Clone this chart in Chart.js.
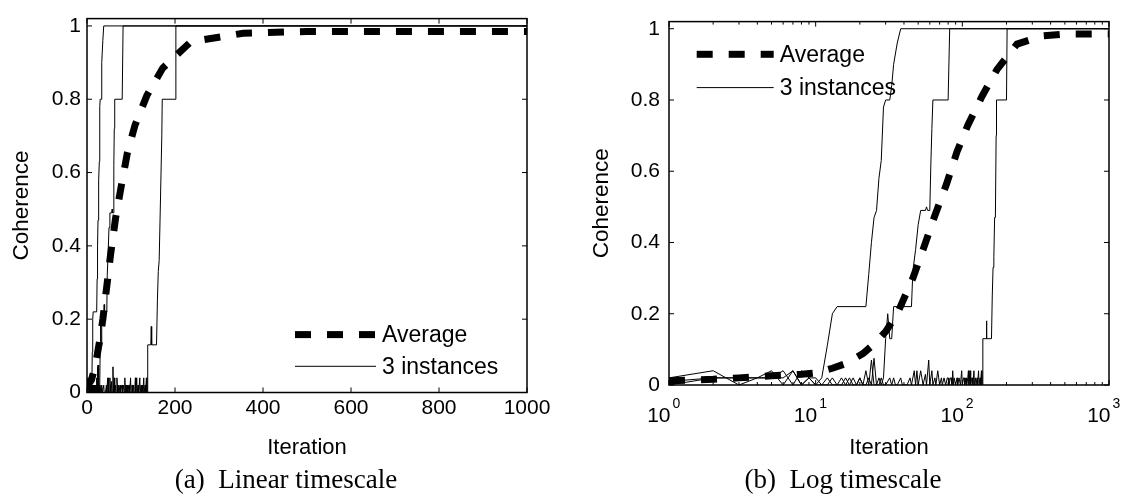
<!DOCTYPE html>
<html>
<head>
<meta charset="utf-8">
<script src="https://cdn.jsdelivr.net/npm/chart.js@4.4.0/dist/chart.umd.min.js"></script>
<style>
  body { margin: 0; background: #fff; width: 1130px; height: 503px; overflow: hidden; position: relative; }
  .panel { position: absolute; top: 0; width: 565px; height: 465px; }
  .caption { position: absolute; top: 464px; height: 30px; line-height: 30px; text-align: center;
             font-family: 'Liberation Serif', 'Times New Roman', serif; font-size: 27px; color: #000; white-space: pre; }
</style>
</head>
<body>
<div class="panel" style="left:0"><canvas id="linChart"></canvas></div>
<div class="panel" style="left:565px"><canvas id="logChart"></canvas></div>
<div class="caption" style="left:0;width:572px">(a)  Linear timescale</div>
<div class="caption" style="left:560px;width:566px">(b)  Log timescale</div>
<script>
// average coherence over runs (iteration, value)
const avgIter = [1, 2, 3, 5, 8, 10, 13, 16, 21, 25, 30, 36, 46, 54, 65, 78, 92, 109, 136, 172, 236, 355, 500, 1000]
const avgVal = [0.012, 0.016, 0.02, 0.026, 0.03, 0.034, 0.047, 0.06, 0.088, 0.115, 0.15, 0.2, 0.30, 0.38, 0.476, 0.564, 0.655, 0.729, 0.81, 0.885, 0.957, 0.98, 0.985, 0.985]

// three single runs, [iteration, coherence]
const instA = [[1, 0.02], [2, 0.04], [3, 0], [4, 0.02], [5, 0.02], [6, 0.04], [7, 0], [8, 0.04], [9, 0.02], [10, 0],
  [11, 0.02], [12, 0.11], [13, 0.2], [14, 0.22], [22, 0.22], [23, 0.31], [24, 0.4], [25, 0.47], [26, 0.49], [27, 0.58],
  [28, 0.63], [29, 0.78], [30, 0.8], [32, 0.8], [33, 0.84], [34, 0.9], [36, 0.96], [38, 1], [1000, 1]]

const instB = [[1, 0.01], [2, 0.02], [3, 0.02], [4, 0.02], [5, 0.04], [6, 0], [7, 0.04], [8, 0], [9, 0.02], [10, 0.02],
  [11, 0], [12, 0.02], [13, 0], [14, 0], [15, 0.02], [16, 0], [17, 0.02], [18, 0], [19, 0], [20, 0.02], [21, 0],
  [22, 0.04], [23, 0], [24, 0.07], [25, 0], [26, 0], [27, 0.02], [28, 0], [29, 0.02], [30, 0.13], [31, 0.2],
  [32, 0.13], [33, 0.13], [34, 0.22], [38, 0.22], [39, 0.24], [40, 0.22], [45, 0.22], [46, 0.32], [48, 0.38],
  [50, 0.45], [52, 0.49], [56, 0.49], [57, 0.5], [58, 0.49], [60, 0.49], [61, 0.62], [62, 0.72], [63, 0.8],
  [80, 0.8], [82, 1], [1000, 1]]

const instC = [[1, 0], [2, 0.02], [3, 0.02], [4, 0.02], [5, 0.02], [6, 0.02], [7, 0.04], [8, 0], [9, 0.02], [10, 0],
  [11, 0], [12, 0], [13, 0.02], [14, 0], [15, 0], [16, 0.02], [17, 0], [18, 0.02], [19, 0], [20, 0.02], [21, 0],
  [22, 0], [23, 0.02], [24, 0], [25, 0.075], [26, 0], [27, 0], [28, 0.02], [29, 0], [30, 0], [32, 0.02], [33, 0],
  [34, 0.02], [35, 0], [36, 0], [38, 0.02], [39, 0], [42, 0], [44, 0.02], [45, 0], [47, 0.04], [48, 0], [49, 0.04],
  [50, 0], [52, 0.04], [53, 0.02], [54, 0], [56, 0.03], [57, 0], [59, 0.07], [60, 0], [62, 0.04], [63, 0], [65, 0.02],
  [66, 0], [68, 0.04], [69, 0.02], [70, 0], [72, 0.02], [73, 0], [75, 0.02], [76, 0.02], [77, 0], [79, 0.02],
  [80, 0.02], [81, 0], [83, 0.02], [84, 0.02], [85, 0], [86, 0.04], [87, 0], [88, 0.02], [89, 0.02], [90, 0],
  [92, 0.02], [93, 0], [95, 0.02], [96, 0.02], [97, 0], [99, 0.04], [100, 0], [102, 0.02], [103, 0.02], [104, 0],
  [106, 0.02], [107, 0], [109, 0.02], [110, 0.04], [111, 0], [113, 0.04], [114, 0], [116, 0.02], [117, 0.02],
  [118, 0], [120, 0.04], [121, 0], [123, 0.02], [124, 0], [126, 0.02], [127, 0], [129, 0.04], [130, 0], [132, 0.02],
  [133, 0], [135, 0.04], [136, 0], [137, 0], [138, 0.13], [145, 0.13], [146, 0.18], [147, 0.13], [158, 0.13],
  [160, 0.25], [162, 0.33], [164, 0.36], [166, 0.47], [168, 0.47], [170, 0.7], [171, 0.8], [200, 0.8], [202, 1],
  [1000, 1]]

const linTicks = [0, 200, 400, 600, 800, 1000]
const logTicks = [1, 10, 100, 1000]
const logExponents = ['0', '1', '2', '3']
const yTicks = [0, 0.2, 0.4, 0.6, 0.8, 1]
const legendLabels = ['Average', '3 instances']

const SANS = "'Liberation Sans', Arial, Helvetica, sans-serif"

const toXY = pairs => pairs.map(([x, y]) => ({ x, y }))

function makeDatasets() {
  const thin = { borderColor: '#000', borderWidth: 1, pointRadius: 0, tension: 0, fill: false }
  return [
    {
      label: legendLabels[0],
      data: avgIter.map((x, i) => ({ x, y: avgVal[i] })),
      borderColor: '#000',
      borderWidth: 7,
      borderDash: [16, 16],
      borderCapStyle: 'butt',
      pointRadius: 0,
      tension: 0,
      fill: false,
    },
    { label: legendLabels[1], data: toXY(instA), ...thin },
    { label: 'run 2', data: toXY(instB), ...thin },
    { label: 'run 3', data: toXY(instC), ...thin },
  ]
}

// box around the axes with inward ticks, matlab style
const frame = {
  id: 'frame',
  afterDatasetsDraw(chart) {
    const { ctx, chartArea: a, scales: { x, y } } = chart
    ctx.save()
    ctx.strokeStyle = '#000'
    ctx.lineWidth = 1
    const seg = (x1, y1, x2, y2) => { ctx.beginPath(); ctx.moveTo(x1, y1); ctx.lineTo(x2, y2); ctx.stroke() }
    const major = 5, minor = 3
    x.ticks.forEach(t => {
      const px = x.getPixelForValue(t.value)
      seg(px, a.bottom, px, a.bottom - major)
      seg(px, a.top, px, a.top + major)
    })
    if (x.type === 'logarithmic') {
      for (let dec = 1; dec < 1000; dec *= 10) {
        for (let m = 2; m <= 9; m++) {
          const px = x.getPixelForValue(m * dec)
          seg(px, a.bottom, px, a.bottom - minor)
          seg(px, a.top, px, a.top + minor)
        }
      }
      // tick labels as 10 with exponent
      ctx.fillStyle = '#000'
      ctx.textBaseline = 'alphabetic'
      x.ticks.forEach((t, i) => {
        const px = x.getPixelForValue(t.value)
        ctx.font = '21px ' + SANS
        ctx.textAlign = 'right'
        ctx.fillText('10', px + 1.5, a.bottom + 37)
        ctx.font = '14px ' + SANS
        ctx.textAlign = 'left'
        ctx.fillText(logExponents[i], px + 3.5, a.bottom + 23)
      })
    }
    y.ticks.forEach(t => {
      const py = y.getPixelForValue(t.value)
      seg(a.left, py, a.left + major, py)
      seg(a.right, py, a.right - major, py)
    })
    ctx.lineWidth = 1.5
    ctx.strokeRect(a.left, a.top, a.right - a.left, a.bottom - a.top)
    ctx.restore()
  },
}

// legend without a box, drawn inside the axes
const lineLegend = {
  id: 'lineLegend',
  afterDraw(chart, args, opts) {
    const { ctx, chartArea: a } = chart
    const x0 = a.left + opts.dx
    ctx.save()
    ctx.font = '23px ' + SANS
    ctx.fillStyle = '#000'
    ctx.textAlign = 'left'
    ctx.textBaseline = 'middle'
    legendLabels.forEach((label, i) => {
      const ds = chart.data.datasets[i]
      const y = a.top + opts.dy + i * opts.rowGap
      ctx.strokeStyle = ds.borderColor
      ctx.lineWidth = ds.borderWidth
      ctx.lineCap = 'butt'
      ctx.setLineDash(ds.borderDash || [])
      ctx.beginPath()
      ctx.moveTo(x0, y)
      ctx.lineTo(x0 + opts.sample, y)
      ctx.stroke()
      ctx.setLineDash([])
      ctx.fillText(label, x0 + opts.sample + 6, y + 1)
    })
    ctx.restore()
  },
}

function buildChart(id, cfg) {
  return new Chart(document.getElementById(id), {
    type: 'line',
    data: { datasets: makeDatasets() },
    plugins: [frame, lineLegend],
    options: {
      animation: false,
      responsive: true,
      maintainAspectRatio: false,
      events: [],
      layout: { padding: { top: 14, right: cfg.padRight, left: 0, bottom: 0 } },
      plugins: {
        legend: { display: false },
        tooltip: { enabled: false },
        lineLegend: cfg.legend,
      },
      scales: {
        x: {
          type: cfg.xType,
          min: cfg.xMin,
          max: cfg.xMax,
          afterBuildTicks: s => { s.ticks = cfg.xTicks.map(v => ({ value: v })) },
          afterFit: s => { s.height = cfg.xHeight },
          grid: { display: false, drawTicks: false },
          border: { display: false },
          ticks: {
            display: cfg.xType === 'linear',
            color: '#000',
            font: { family: SANS, size: 21 },
            padding: 3,
            maxRotation: 0,
            autoSkip: false,
            callback: v => String(v),
          },
          title: {
            display: true,
            text: 'Iteration',
            color: '#000',
            font: { family: SANS, size: 22 },
            padding: { top: 0, bottom: 4 },
          },
        },
        y: {
          type: 'linear',
          min: 0,
          max: 1.02,
          afterBuildTicks: s => { s.ticks = yTicks.map(v => ({ value: v })) },
          afterFit: s => { s.width = cfg.yWidth },
          grid: { display: false, drawTicks: false },
          border: { display: false },
          ticks: {
            color: '#000',
            font: { family: SANS, size: 21 },
            padding: cfg.yPad,
            autoSkip: false,
            callback: v => String(+Number(v).toFixed(1)),
          },
          title: {
            display: true,
            text: 'Coherence',
            color: '#000',
            font: { family: SANS, size: 22.5 },
            padding: { top: cfg.yTitlePad, bottom: 0 },
          },
        },
      },
    },
  })
}

buildChart('linChart', {
  xType: 'linear', xMin: 0, xMax: 1000, xTicks: linTicks,
  padRight: 38, xHeight: 72.5, yWidth: 87, yPad: 6, yTitlePad: 8.3,
  legend: { dx: 208, dy: 316, rowGap: 31.7, sample: 81 },
})

buildChart('logChart', {
  xType: 'logarithmic', xMin: 1, xMax: 1000, xTicks: logTicks,
  padRight: 21, xHeight: 80, yWidth: 104, yPad: 9, yTitlePad: 23.3,
  legend: { dx: 27.7, dy: 32.7, rowGap: 33.3, sample: 77 },
})
</script>
</body>
</html>
